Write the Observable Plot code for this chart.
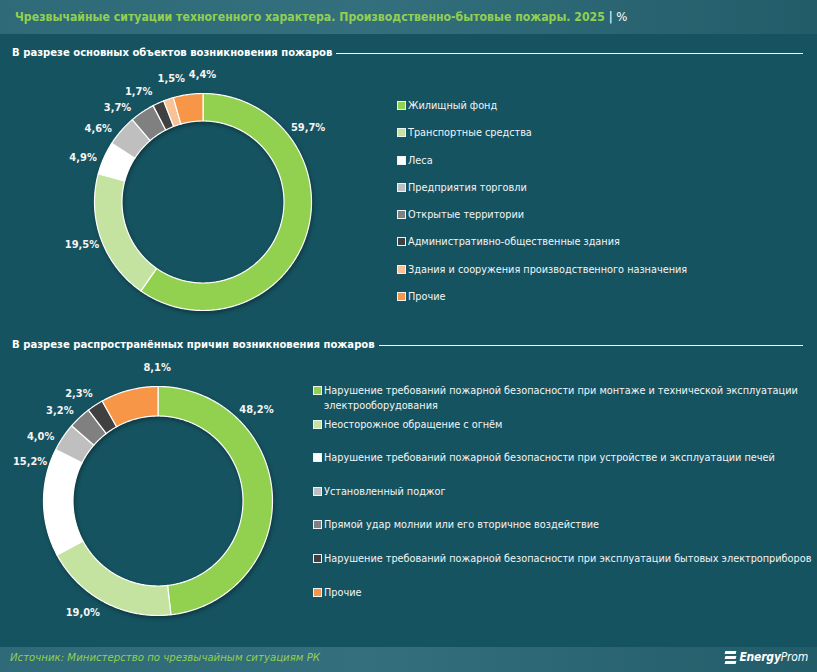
<!DOCTYPE html>
<html><head><meta charset="utf-8">
<script src="https://cdn.jsdelivr.net/npm/d3@7"></script>
<script src="https://cdn.jsdelivr.net/npm/@observablehq/plot@0.6"></script>
<style>
body{margin:0;background:#155360;}
#root{position:relative;width:817px;height:672px;background:#155360;overflow:hidden;font-family:"DejaVu Sans Condensed","DejaVu Sans",sans-serif;color:#fff}
.band{position:absolute;left:0;width:817px;background:linear-gradient(90deg,#2e6a78 0%,#336f7d 45%,#235c69 100%);}
.title{position:absolute;left:15px;top:9px;font-weight:bold;font-size:12.2px;color:#92d050;white-space:nowrap;line-height:16px}
.title .u{color:#fff;font-weight:normal;font-size:13px}
.sec{position:absolute;left:12px;width:791px;display:flex;align-items:center;font-weight:bold;font-size:11.2px;white-space:nowrap;line-height:14px}
.sec .ln{flex:1;height:0;border-top:1.5px solid #fff;margin-left:4px;margin-top:1px}
.legend{position:absolute;font-size:10.8px;color:#f4f4f4}
.item{display:flex;align-items:flex-start;line-height:15px}
.sw{width:7px;height:7px;border:1px solid #f2f2f2;margin-top:3px;margin-right:2px;flex:none}
.plot{position:absolute}
.src{position:absolute;left:10px;top:651px;font-style:italic;font-size:11.3px;color:#92d050;white-space:nowrap}
.logo{position:absolute;right:9px;top:650px;display:flex;align-items:center;font-style:italic;font-size:12px;white-space:nowrap;letter-spacing:-0.2px}
.logo b{font-weight:bold}
.logo .ic{width:11px;height:13px;margin-right:3px;display:flex;flex-direction:column;justify-content:space-between}
.logo .ic span{display:block;height:3px;background:#fff;transform:skewX(-15deg)}
</style></head>
<body>
<div id="root">
  <div class="band" style="top:0;height:34px"></div>
  <div class="title">Чрезвычайные ситуации техногенного характера. Производственно-бытовые пожары. 2025 <span class="u">| %</span></div>
  <div class="sec" style="top:46px"><span>В разрезе основных объектов возникновения пожаров</span><div class="ln"></div></div>
  <div class="sec" style="top:338px"><span>В разрезе распространённых причин возникновения пожаров</span><div class="ln"></div></div>
  <div id="d1" class="plot"></div>
  <div id="d2" class="plot"></div>
  <div id="l1" class="legend" style="left:397px;top:98px"></div>
  <div id="l2" class="legend" style="left:313px;top:383px"></div>
  <div class="band" style="top:647px;height:25px"></div>
  <div class="src">Источник: Министерство по чрезвычайным ситуациям РК</div>
  <div class="logo"><div class="ic"><span></span><span></span><span></span></div><b>Energy</b>Prom</div>
</div>
<script>
// ---- Data ----
const objectCategories = [
  "Жилищный фонд",
  "Транспортные средства",
  "Леса",
  "Предприятия торговли",
  "Открытые территории",
  "Административно-общественные здания",
  "Здания и сооружения производственного назначения",
  "Прочие"
];
const objectValues = [59.7, 19.5, 4.9, 4.6, 3.7, 1.7, 1.5, 4.4];

const causeCategories = [
  "Нарушение требований пожарной безопасности при монтаже и технической эксплуатации электрооборудования",
  "Неосторожное обращение с огнём",
  "Нарушение требований пожарной безопасности при устройстве и эксплуатации печей",
  "Установленный поджог",
  "Прямой удар молнии или его вторичное воздействие",
  "Нарушение требований пожарной безопасности при эксплуатации бытовых электроприборов",
  "Прочие"
];
const causeValues = [48.2, 19.0, 15.2, 4.0, 3.2, 2.3, 8.1];

// ---- Styles / layout ----
const objectColors = ["#92d050", "#c4e3a0", "#ffffff", "#bfbfbf", "#808080", "#404040", "#f9c196", "#f79646"];
const causeColors  = ["#92d050", "#c4e3a0", "#ffffff", "#bfbfbf", "#808080", "#404040", "#f79646"];
// label angle nudges (degrees) away from the slice mid-angle
const objectLabelNudge = [-53, 1, -3.5, -6, -8, -6, 4, 7.5];
const causeLabelNudge  = [-40, 6.5, 18, -5, -4, -3, 14];

const fmt = v => d3.format(".1f")(v).replace(".", ",") + "%";

function donut(el, cats, vals, colors, nudges, cx, cy, R, r, S) {
  const arcs = d3.pie().sort(null).value(d => d)(vals);
  const pts = [];
  const labels = [];
  arcs.forEach((a, i) => {
    const n = Math.max(3, Math.ceil((a.endAngle - a.startAngle) / 0.01));
    for (let k = 0; k <= n; k++) {
      const t = a.startAngle + (a.endAngle - a.startAngle) * k / n;
      pts.push({cat: cats[i], x1: R * Math.sin(t), y1: R * Math.cos(t), x2: r * Math.sin(t), y2: r * Math.cos(t)});
    }
    const m = (a.startAngle + a.endAngle) / 2 + nudges[i] * Math.PI / 180;
    const lr = R + 20;
    labels.push({x: lr * Math.sin(m), y: lr * Math.cos(m), text: fmt(vals[i])});
  });
  const chart = Plot.plot({
    width: S, height: S, margin: 0,
    x: {domain: [-S / 2, S / 2], axis: null},
    y: {domain: [-S / 2, S / 2], axis: null},
    color: {domain: cats, range: colors},
    style: {background: "transparent", overflow: "visible"},
    marks: [
      Plot.area(pts, {x1: "x1", y1: "y1", x2: "x2", y2: "y2", z: "cat", fill: "cat", stroke: "#ffffff", strokeWidth: 1.2}),
      Plot.text(labels, {x: "x", y: "y", text: "text", fill: "#f4f4f4", fontWeight: "bold", fontSize: 11,
        fontFamily: "DejaVu Sans Condensed, DejaVu Sans, sans-serif"})
    ]
  });
  const g = chart.querySelector('g[aria-label="area"]');
  if (g) g.style.filter = "drop-shadow(1px 2px 2px rgba(0,0,0,0.35))";
  el.style.left = (cx - S / 2) + "px";
  el.style.top = (cy - S / 2) + "px";
  el.appendChild(chart);
}

function legend(el, cats, colors, step, maxW) {
  cats.forEach((c, i) => {
    const it = document.createElement("div");
    it.className = "item";
    it.style.height = step + "px";
    const sw = document.createElement("div");
    sw.className = "sw";
    sw.style.background = colors[i];
    const tx = document.createElement("div");
    tx.textContent = c;
    tx.style.maxWidth = maxW + "px";
    it.appendChild(sw); it.appendChild(tx);
    el.appendChild(it);
  });
}

donut(document.getElementById("d1"), objectCategories, objectValues, objectColors, objectLabelNudge, 203, 202, 108.5, 81, 320);
donut(document.getElementById("d2"), causeCategories, causeValues, causeColors, causeLabelNudge, 158, 501, 114.5, 85, 330);
legend(document.getElementById("l1"), objectCategories, objectColors, 27.3, 400);
legend(document.getElementById("l2"), causeCategories, causeColors, 33.6, 500);
</script>
</body></html>
